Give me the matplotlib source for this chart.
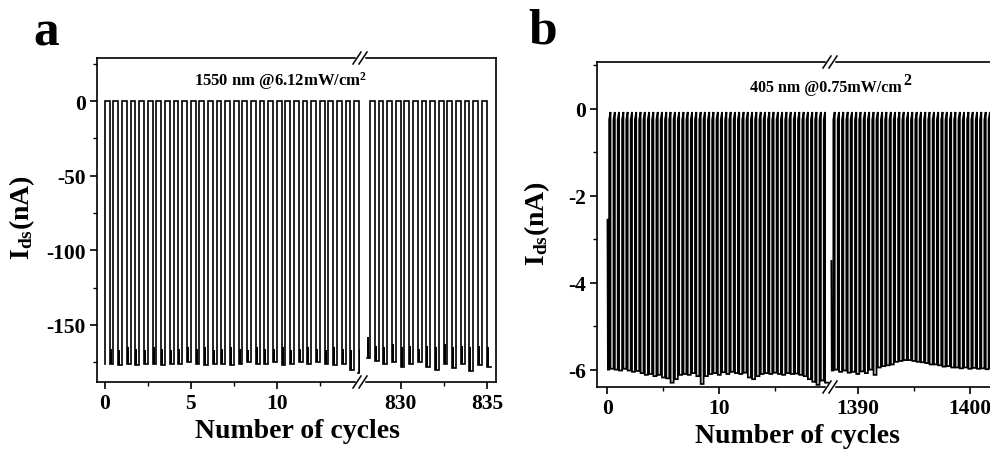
import numpy as np
import matplotlib.pyplot as plt
from matplotlib.lines import Line2D

plt.rcParams['font.family'] = 'Liberation Serif'
plt.rcParams['font.weight'] = 'bold'
plt.rcParams['axes.unicode_minus'] = False
plt.rcParams['mathtext.fontset'] = 'custom'
plt.rcParams['mathtext.rm'] = 'Liberation Serif:bold'
plt.rcParams['mathtext.it'] = 'Liberation Serif:bold'
plt.rcParams['mathtext.bf'] = 'Liberation Serif:bold'

# ---- panel a : 1550 nm, pulse onsets (cycles) and bottom levels (nA)
a_left_on = [0.0, 0.5, 1.0, 1.5, 2.0, 2.5, 3.0, 3.5, 4.0, 4.5,
             5.0, 5.5, 6.0, 6.5, 7.0, 7.5, 8.0, 8.5, 9.0, 9.5,
             10.0, 10.5, 11.0, 11.5, 12.0, 12.5, 13.0, 13.5, 14.0, 14.5]
a_left_lo = [-176, -177, -176, -177, -176, -176, -177, -176, -176, -175,
             -176, -177, -176, -176, -177, -176, -175, -176, -176, -175,
             -177, -176, -175, -176, -175, -176, -177, -176, -180, -182]
a_left_hi = [-166, -167, -165, -166, -167, -165, -166, -167, -166, -165,
             -166, -165, -167, -166, -165, -166, -167, -165, -166, -166,
             -165, -167, -166, -165, -166, -167, -165, -166, -167, -166]

a_right_on = [828.2, 828.7, 829.2, 829.7, 830.2, 830.7, 831.2,
              831.7, 832.2, 832.7, 833.2, 833.7, 834.2, 834.7]
a_right_lo = [-174, -176, -175, -178, -176, -175, -178,
              -180, -176, -179, -176, -181, -177, -178]
a_right_hi = [-164, -165, -163, -165, -164, -166, -164,
              -165, -163, -165, -164, -165, -164, -165]
a_right_first = [828.05, -158, -172]   # x, block top, block bottom

# ---- panel b : 405 nm
b_left_on = [0.15, 0.54, 0.92, 1.31, 1.69, 2.08, 2.46, 2.85, 3.23, 3.62,
             4.00, 4.39, 4.77, 5.16, 5.54, 5.93, 6.31, 6.70, 7.08, 7.47,
             7.85, 8.24, 8.62, 9.01, 9.39, 9.78, 10.16, 10.55, 10.93, 11.32,
             11.70, 12.09, 12.47, 12.86, 13.24, 13.63, 14.01, 14.40, 14.78, 15.17,
             15.55, 15.94, 16.32, 16.71, 17.09, 17.48, 17.86, 18.25, 18.63, 19.02,
             19.40]
b_left_lo = [-5.98, -6.00, -6.02, -5.98, -6.02, -6.05, -6.03,
             -6.08, -6.12, -6.10, -6.15, -6.12, -6.18, -6.20,
             -6.30, -6.22, -6.12,
             -6.10, -6.12, -6.08, -6.15,
             -6.33, -6.15,
             -6.10, -6.08, -6.12, -6.06, -6.10, -6.05, -6.08, -6.10, -6.07,
             -6.18, -6.22, -6.15,
             -6.10, -6.08, -6.10, -6.07, -6.10, -6.12, -6.08, -6.10, -6.09, -6.12, -6.15,
             -6.22, -6.28, -6.35, -6.25, -6.30]
b_left_first_x = [0.0, 0.04]
b_left_first_y = [-2.55, -6.0]

b_right_on = [1387.80, 1388.19, 1388.57, 1388.96, 1389.34, 1389.73, 1390.11,
              1390.50, 1390.88, 1391.27, 1391.65, 1392.04, 1392.42, 1392.81,
              1393.19, 1393.58, 1393.96, 1394.35, 1394.73, 1395.12, 1395.50,
              1395.89, 1396.27, 1396.66, 1397.04, 1397.43, 1397.81, 1398.20,
              1398.58, 1398.97, 1399.35, 1399.74, 1400.12, 1400.51, 1400.89,
              1401.28, 1401.66]
b_right_lo = [-6.00, -6.05, -6.02, -6.07,
              -6.05, -6.10, -6.04,
              -6.08, -6.00, -6.12,
              -5.95, -5.92, -5.90, -5.88,
              -5.82, -5.80, -5.78, -5.78, -5.80, -5.82, -5.83,
              -5.85, -5.88, -5.88, -5.90, -5.93, -5.92, -5.95,
              -5.95, -5.97, -5.95, -5.98, -5.96, -5.98, -5.97, -5.99, -5.96]
b_right_first_x = [1387.62, 1387.66]
b_right_first_y = [-3.5, -6.02]

a_top = [0.0, 0.0]
b_top = [-0.25, -0.07]


def wave(ax, start_x, start_y, onsets, lows, top, dtop, x_end, lw):
    xs = list(start_x)
    ys = list(start_y)
    for t, lo in zip(onsets, lows):
        xs += [t, t, t + dtop, t + dtop]
        ys += [ys[-1], top[0], top[1], lo]
    xs.append(x_end)
    ys.append(ys[-1])
    ax.plot(xs, ys, color='black', lw=lw, solid_joinstyle='miter')


fig = plt.figure(figsize=(9.9, 4.56), dpi=100)
W, H = 990.0, 456.0


def axes_px(l, r, t, b):
    return fig.add_axes([l / W, 1 - b / H, (r - l) / W, (b - t) / H])


def style(ax, side):
    for s in ax.spines.values():
        s.set_linewidth(1.2)
    ax.tick_params(direction='out', length=5, width=1.2, labelsize=15.5, pad=3)
    ax.tick_params(which='minor', direction='out', length=3, width=1.0)
    if side == 'left':
        ax.spines['right'].set_visible(False)
    else:
        ax.spines['left'].set_visible(False)
        ax.tick_params(axis='y', which='both', left=False, labelleft=False)
    for lab in ax.get_xticklabels() + ax.get_yticklabels():
        lab.set_fontweight('bold')


def breakmark(ax):
    p = ax.get_position()
    for yf in (p.y0, p.y1):
        fig.add_artist(Line2D([p.x1 - 3 / W, p.x1 + 3 / W], [yf, yf],
                              color='white', lw=2.5))
        for dx in (-3.0, 3.0):
            x0 = p.x1 + (dx - 4) / W
            x1 = p.x1 + (dx + 4) / W
            fig.add_artist(Line2D([x0, x1], [yf - 6 / H, yf + 6 / H],
                                  color='black', lw=1.1))


# ---------------- panel a
a1 = axes_px(97, 360, 59, 383)
a2 = axes_px(360, 496, 59, 383)

wave(a1, [a_left_on[0]], [a_left_lo[0]], a_left_on, a_left_lo, a_top, 0.28, 14.75, 1.2)
a1.bar([t + 0.28 for t in a_left_on], np.array(a_left_hi) - np.array(a_left_lo),
       bottom=a_left_lo, width=0.12, align='edge', color='black', lw=0)

wave(a2, [a_right_first[0]], [a_right_first[2]], a_right_on, a_right_lo, a_top, 0.28, 835.22, 1.2)
a2.bar([a_right_first[0]] + [t + 0.28 for t in a_right_on],
       np.array([a_right_first[1]] + a_right_hi) - np.array([a_right_first[2]] + a_right_lo),
       bottom=[a_right_first[2]] + a_right_lo, width=0.12, align='edge', color='black', lw=0)

for ax in (a1, a2):
    ax.set_ylim(-188.2, 28.8)
a1.set_xlim(-0.45, 14.84)
a2.set_xlim(827.62, 835.53)
a1.set_xticks([0, 5, 10])
a1.set_xticks([2.5, 7.5, 12.5], minor=True)
a2.set_xticks([830, 835])
a2.set_xticks([832.5], minor=True)
a1.set_yticks([0, -50, -100, -150])
a1.set_yticks([25, -25, -75, -125, -175], minor=True)
style(a1, 'left')
style(a2, 'right')
breakmark(a1)

fig.text(22 / W, 1 - 218 / H, r'I$_{\mathrm{ds}}$(nA)', rotation=90, ha='center', va='center',
         fontsize=20, fontweight='bold')
fig.text(297 / W, 1 - 432 / H, 'Number of cycles', ha='center', va='center',
         fontsize=20, fontweight='bold')
fig.text(281 / W, 1 - 81 / H, r'1550 nm @6.12mW/cm$^{2}$', ha='center', va='center',
         fontsize=12, fontweight='bold')
fig.text(46 / W, 1 - 34 / H, 'a', ha='center', va='center', fontsize=37, fontweight='bold')

# ---------------- panel b
b1 = axes_px(597, 830, 63, 388)
b2 = axes_px(830, 993, 63, 388)

wave(b1, b_left_first_x, b_left_first_y, b_left_on, b_left_lo, b_top, 0.12, 19.78, 1.3)
wave(b2, b_right_first_x, b_right_first_y, b_right_on, b_right_lo, b_top, 0.12, 1402.0, 1.3)

for ax in (b1, b2):
    ax.set_ylim(-6.4, 1.08)
b1.set_xlim(-0.94, 19.96)
b2.set_xlim(1387.5, 1402.05)
b1.set_xticks([0, 10])
b1.set_xticks([5, 15], minor=True)
b2.set_xticks([1390, 1400])
b2.set_xticks([1395], minor=True)
b1.set_yticks([0, -2, -4, -6])
b1.set_yticks([1, -1, -3, -5], minor=True)
style(b1, 'left')
style(b2, 'right')
breakmark(b1)

fig.text(537 / W, 1 - 224 / H, r'I$_{\mathrm{ds}}$(nA)', rotation=90, ha='center', va='center',
         fontsize=20, fontweight='bold')
fig.text(797 / W, 1 - 437 / H, 'Number of cycles', ha='center', va='center',
         fontsize=20, fontweight='bold')
fig.text(826 / W, 1 - 88 / H, '405 nm @0.75mW/cm', ha='center', va='center',
         fontsize=11.5, fontweight='bold')
fig.text(903 / W, 1 - 81 / H, '2', ha='left', va='center', fontsize=11.5, fontweight='bold')
fig.text(543 / W, 1 - 31 / H, 'b', ha='center', va='center', fontsize=37, fontweight='bold')

fig.savefig('out.png', dpi=100)
